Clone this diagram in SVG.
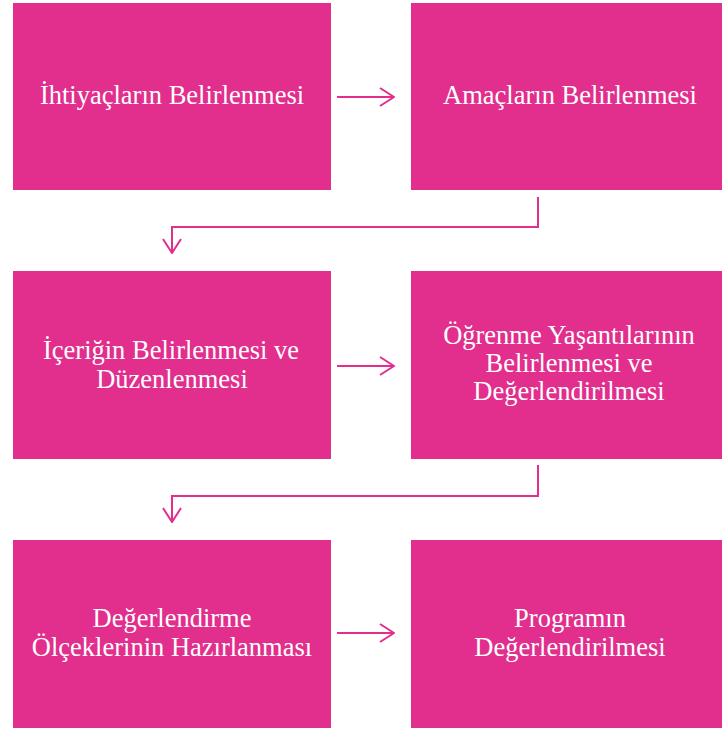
<svg xmlns="http://www.w3.org/2000/svg" width="722" height="733" viewBox="0 0 722 733">
<style>
.box{fill:#E22E8D}
.t{font-family:'Liberation Serif','Times New Roman','DejaVu Serif',serif;font-size:26.5px;fill:#fff;text-anchor:middle}
.c{fill:none;stroke:#E22E8D;stroke-width:2}
</style>
<defs>
<marker id="ah" viewBox="0 0 16 20" refX="15" refY="10" markerWidth="16" markerHeight="20" markerUnits="userSpaceOnUse" orient="auto">
<path d="M1,1 L15,10 L1,19" fill="none" stroke="#E22E8D" stroke-width="2"/>
</marker>
</defs>
<rect width="722" height="733" fill="#fff"/>
<g id="n1"><rect class="box" x="13" y="3" width="318" height="187"/><text class="t" x="172" y="104">İhtiyaçların Belirlenmesi</text></g>
<g id="n2"><rect class="box" x="411" y="3" width="311" height="187"/><text class="t" x="570" y="104">Amaçların Belirlenmesi</text></g>
<g id="n3"><rect class="box" x="13" y="271" width="318" height="188"/><text class="t" x="171" y="359">İçeriğin Belirlenmesi ve</text><text class="t" x="172" y="388">Düzenlenmesi</text></g>
<g id="n4"><rect class="box" x="411" y="271" width="311" height="188"/><text class="t" x="569" y="344">Öğrenme Yaşantılarının</text><text class="t" x="569" y="372">Belirlenmesi ve</text><text class="t" x="569" y="400">Değerlendirilmesi</text></g>
<g id="n5"><rect class="box" x="13" y="540" width="318" height="188"/><text class="t" x="172" y="627">Değerlendirme</text><text class="t" x="172" y="656">Ölçeklerinin Hazırlanması</text></g>
<g id="n6"><rect class="box" x="411" y="540" width="311" height="188"/><text class="t" x="570" y="627">Programın</text><text class="t" x="570" y="656">Değerlendirilmesi</text></g>
<g id="connectors">
<path class="c" d="M337,97 H394" marker-end="url(#ah)"/>
<path class="c" d="M538,197 V227 H172 V253" marker-end="url(#ah)"/>
<path class="c" d="M337,366 H394" marker-end="url(#ah)"/>
<path class="c" d="M538,465 V496 H172 V522" marker-end="url(#ah)"/>
<path class="c" d="M337,633 H394" marker-end="url(#ah)"/>
</g>
</svg>
